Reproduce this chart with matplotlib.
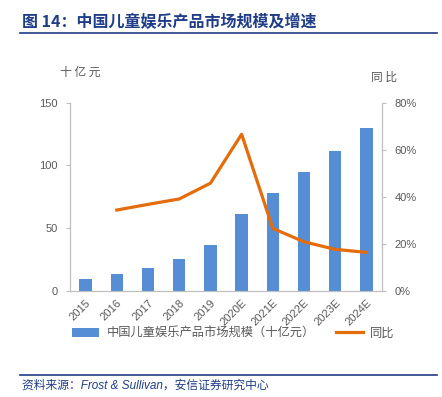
import numpy as np
import matplotlib
matplotlib.use("Agg")
from matplotlib import pyplot as plt
import matplotlib.ticker as ticker

plt.rcParams["font.family"] = ["Liberation Sans", "Noto Sans CJK SC", "DejaVu Sans"]

years = ["2015", "2016", "2017", "2018", "2019", "2020E", "2021E", "2022E", "2023E", "2024E"]
market_size = [9.6, 13.5, 18.1, 25.3, 36.7, 61.4, 77.8, 94.6, 111.5, 130.0]
yoy = [np.nan, 34.4, 36.8, 39.1, 45.8, 66.6, 26.6, 20.9, 17.7, 16.4]

bar_color = "#558ED5"
line_color = "#E46C0A"
navy = "#1F3C88"
grey = "#595959"
cjk = ["Noto Sans CJK SC", "DejaVu Sans"]

fig = plt.figure(figsize=(4.42, 3.97), dpi=100)
ax = fig.add_axes([0.1584, 0.267, 0.7059, 0.4743])
ax2 = ax.twinx()

x = np.arange(len(years))
ax.bar(x, market_size, width=0.4, color=bar_color, label="中国儿童娱乐产品市场规模（十亿元）")
ax2.plot(x, yoy, color=line_color, lw=2.3, label="同比")

ax.set_xlim(-0.5, 9.5)
ax.set_ylim(0, 150)
ax.set_yticks([0, 50, 100, 150])
ax2.set_ylim(0, 80)
ax2.set_yticks([0, 20, 40, 60, 80])
ax2.yaxis.set_major_formatter(ticker.FuncFormatter(lambda v, p: f"{v:.0f}%"))

ax.set_xticks(x)
ax.set_xticklabels(years, rotation=45, ha="right", rotation_mode="anchor")

for a in (ax, ax2):
    a.spines["top"].set_visible(False)
    for s in ("left", "right", "bottom"):
        a.spines[s].set_color("#BFBFBF")
        a.spines[s].set_linewidth(0.8)
    a.tick_params(axis="y", colors="#BFBFBF", labelcolor=grey, labelsize=8, length=3, width=0.8, pad=6)
ax.tick_params(axis="x", length=0, labelcolor=grey, labelsize=8, pad=5)

fig.text(60 / 442, 1 - 72 / 397, "十 亿 元", fontsize=8.5, color=grey, family=cjk, ha="left", va="center")
fig.text(384 / 442, 1 - 77 / 397, "同 比", fontsize=8.5, color=grey, family=cjk, ha="center", va="center")

# legend
h1, l1 = ax.get_legend_handles_labels()
h2, l2 = ax2.get_legend_handles_labels()
leg = fig.legend(h1 + h2, l1 + l2, loc="center", bbox_to_anchor=(0.528, 1 - 333 / 397), ncol=2,
                 frameon=False, columnspacing=1.7, handlelength=2.2,
                 handletextpad=0.6, prop={"family": cjk, "size": 8.8})
for t in leg.get_texts():
    t.set_color(grey)

# header and footer
fig.text(22 / 442, 1 - 22 / 397, "图 14：中国儿童娱乐产品市场规模及增速", fontsize=11.5, fontweight="bold",
         color=navy, family=["Noto Sans CJK SC", "DejaVu Sans"], ha="left", va="center")
fig.add_artist(plt.Line2D([20 / 442, 437 / 442], [1 - 33 / 397, 1 - 33 / 397], color=navy, lw=1.2))
fig.add_artist(plt.Line2D([20 / 442, 437 / 442], [1 - 375 / 397, 1 - 375 / 397], color=navy, lw=1.2))
fig.text(22 / 442, 1 - 386 / 397, "资料来源：Frost & Sullivan，安信证券研究中心", fontsize=8.5, style="italic",
         color=navy, family=["Liberation Sans", "Noto Sans CJK SC"], ha="left", va="center")

fig.savefig("out.png", dpi=100)
